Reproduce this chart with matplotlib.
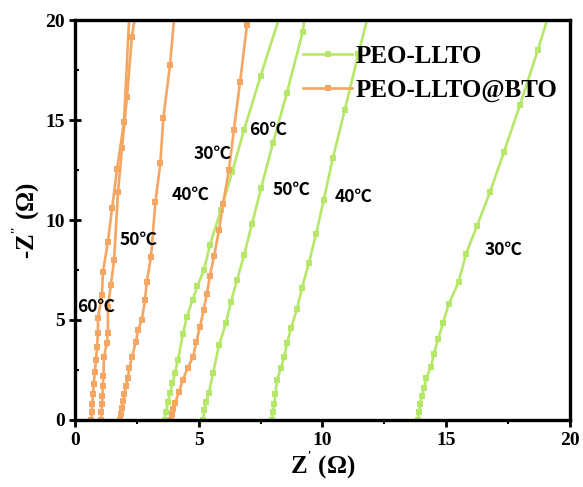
import matplotlib
matplotlib.use("Agg")
import matplotlib.pyplot as plt
from matplotlib.ticker import MultipleLocator

plt.rcParams['font.family'] = ['Liberation Serif', 'DejaVu Serif']
plt.rcParams['font.weight'] = 'bold'
plt.rcParams['mathtext.default'] = 'regular'

GREEN = '#B5E768'
ORANGE = '#F4A662'

# PEO-LLTO (green)
g30_x = [13.85, 13.9, 13.95, 14.02, 14.1, 14.2, 14.38, 14.5, 14.67, 14.87, 15.1, 15.5, 15.8, 16.24, 16.77, 17.33, 17.98, 18.7, 19.2]
g30_y = [0.0, 0.4, 0.8, 1.2, 1.6, 2.1, 2.65, 3.3, 4.05, 4.85, 5.8, 6.9, 8.3, 9.7, 11.4, 13.4, 15.75, 18.5, 20.5]
g40_x = [7.95, 8.0, 8.05, 8.1, 8.16, 8.32, 8.45, 8.57, 8.73, 8.97, 9.17, 9.45, 9.74, 10.05, 10.42, 10.9, 11.45, 11.9]
g40_y = [0.0, 0.4, 0.8, 1.3, 2.0, 2.6, 3.15, 3.85, 4.6, 5.55, 6.6, 7.85, 9.3, 11.0, 13.1, 15.5, 18.3, 20.5]
g50_x = [5.17, 5.22, 5.3, 5.41, 5.58, 5.82, 6.1, 6.3, 6.55, 6.83, 7.15, 7.52, 8.0, 8.56, 9.2, 9.3]
g50_y = [0.0, 0.5, 0.9, 1.35, 2.35, 3.75, 4.85, 5.9, 7.0, 8.25, 9.8, 11.6, 13.85, 16.35, 19.4, 20.3]
g60_x = [3.62, 3.68, 3.76, 3.84, 3.94, 4.04, 4.16, 4.36, 4.52, 4.75, 4.95, 5.21, 5.45, 5.9, 6.35, 6.83, 7.5, 8.3]
g60_y = [0.0, 0.4, 0.9, 1.35, 1.85, 2.35, 3.0, 4.3, 5.15, 6.0, 6.7, 7.5, 8.75, 10.5, 12.4, 14.5, 17.2, 20.3]

# PEO-LLTO@BTO (orange)
o30_x = [3.88, 3.92, 3.97, 4.04, 4.2, 4.36, 4.55, 4.77, 4.9, 5.05, 5.2, 5.33, 5.45, 5.62, 5.82, 5.98, 6.22, 6.42, 6.67, 6.95, 7.02]
o30_y = [0.0, 0.3, 0.55, 0.85, 1.4, 2.0, 2.6, 3.15, 3.9, 4.65, 5.5, 6.3, 7.2, 8.2, 9.5, 10.8, 12.5, 14.5, 16.9, 19.75, 20.3]
o40_x = [1.82, 1.85, 1.9, 1.95, 2.0, 2.06, 2.13, 2.2, 2.3, 2.46, 2.55, 2.7, 2.83, 2.9, 3.07, 3.25, 3.45, 3.57, 3.84, 4.02]
o40_y = [0.0, 0.3, 0.6, 0.95, 1.3, 1.7, 2.1, 2.6, 3.15, 3.9, 4.5, 5.0, 6.0, 6.9, 8.15, 10.9, 12.85, 15.1, 17.75, 20.3]
o50_x = [1.05, 1.07, 1.09, 1.11, 1.13, 1.15, 1.17, 1.29, 1.33, 1.33, 1.45, 1.58, 1.74, 1.9, 2.1, 2.3, 2.45]
o50_y = [0.0, 0.4, 0.8, 1.2, 1.7, 2.2, 3.15, 3.85, 4.35, 5.65, 6.75, 8.0, 11.4, 13.6, 16.15, 19.15, 20.4]
o60_x = [0.66, 0.68, 0.7, 0.73, 0.76, 0.8, 0.85, 0.89, 0.93, 0.93, 1.09, 1.13, 1.33, 1.5, 1.7, 1.98, 2.2]
o60_y = [0.0, 0.4, 0.8, 1.3, 1.8, 2.4, 3.0, 3.65, 4.35, 5.1, 6.25, 7.4, 8.9, 10.6, 12.55, 14.9, 20.35]

labels = ['PEO-LLTO', 'PEO-LLTO@BTO']
temps = ['30℃', '40℃', '50℃', '60℃']
g_label_pos = [(17.3, 8.5), (11.27, 11.15), (8.73, 11.5), (7.8, 14.5)]
o_label_pos = [(5.54, 13.3), (4.65, 11.25), (2.56, 9.0), (0.86, 5.65)]

fig = plt.figure(figsize=(5.83, 4.87), dpi=100)
ax = fig.add_axes([0.1286, 0.1376, 0.8491, 0.8213])

style = dict(lw=1.9, marker='s', ms=5, mew=0, clip_on=True)
green_series = [(g30_x, g30_y), (g40_x, g40_y), (g50_x, g50_y), (g60_x, g60_y)]
orange_series = [(o30_x, o30_y), (o40_x, o40_y), (o50_x, o50_y), (o60_x, o60_y)]
for i, (x, y) in enumerate(green_series):
    ax.plot(x, y, color=GREEN, label=labels[0] if i == 0 else None, **style)
for i, (x, y) in enumerate(orange_series):
    ax.plot(x, y, color=ORANGE, label=labels[1] if i == 0 else None, **style)

tfont = dict(family=['Noto Sans CJK SC', 'DejaVu Sans'], fontsize=12.5, fontweight='bold',
             ha='center', va='center')
for t, (x, y) in zip(temps, g_label_pos):
    ax.text(x, y, t, **tfont)
for t, (x, y) in zip(temps, o_label_pos):
    ax.text(x, y, t, **tfont)

ax.set_xlim(0, 20)
ax.set_ylim(0, 20)
ax.xaxis.set_major_locator(MultipleLocator(5))
ax.xaxis.set_minor_locator(MultipleLocator(2.5))
ax.yaxis.set_major_locator(MultipleLocator(5))
ax.yaxis.set_minor_locator(MultipleLocator(2.5))
ax.tick_params(axis='x', which='major', direction='out', length=5, width=2, labelsize=14, pad=4)
ax.tick_params(axis='x', which='minor', direction='out', length=3, width=1.5)
ax.tick_params(axis='y', which='major', direction='inout', length=9, width=2, labelsize=14, pad=3)
ax.tick_params(axis='y', which='minor', direction='in', length=3, width=1.5)
for lab in ax.get_xticklabels() + ax.get_yticklabels():
    lab.set_fontweight('bold')
for s in ax.spines.values():
    s.set_linewidth(2.4)

ax.set_xlabel("Z$^{'}$ (Ω)", fontsize=18, fontweight='bold', labelpad=0)
ax.set_ylabel("-Z$^{''}$ (Ω)", fontsize=18, fontweight='bold', labelpad=2)

leg = ax.legend(loc='upper right', bbox_to_anchor=(0.995, 0.962), frameon=False,
                prop={'family': 'Liberation Serif', 'weight': 'bold', 'size': 18},
                handlelength=1.95, handletextpad=0.15, labelspacing=0.42, borderaxespad=0)

fig.savefig('out.png', dpi=100)
